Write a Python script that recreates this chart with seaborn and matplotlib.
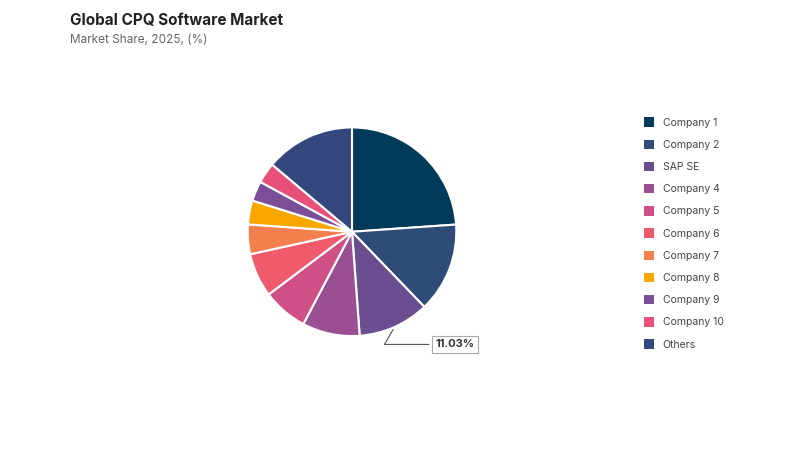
import matplotlib
matplotlib.use("Agg")
import matplotlib.pyplot as plt
import seaborn as sns
from matplotlib.patches import Patch
import numpy as np

sns.set_theme(style="white")
plt.rcParams['font.family'] = ['Inter', 'DejaVu Sans']

labels = ["Company 1", "Company 2", "SAP SE", "Company 4", "Company 5", "Company 6",
          "Company 7", "Company 8", "Company 9", "Company 10", "Others"]
values = [23.9, 13.9, 11.03, 8.9, 7.0, 6.8, 4.6, 3.7, 3.1, 3.2, 13.87]
colors = ["#023a5a", "#2f4b78", "#6b4e8f", "#9b4f93", "#d14f87", "#ef5b6c",
          "#f5804f", "#f7a700", "#7a4f97", "#e8507a", "#34477c"]

fig = plt.figure(figsize=(8, 4.5), dpi=100)
ax = fig.add_axes([0.277, 0.195, 0.326, 0.58])
wedges, _ = ax.pie(values, colors=colors, startangle=90, counterclock=False,
                   wedgeprops=dict(edgecolor="white", linewidth=1.5))
ax.set_aspect("equal")

w = wedges[2]
ang = np.deg2rad((w.theta1 + w.theta2) / 2)
x, y = np.cos(ang), np.sin(ang)
ax.annotate(f"{values[2]:.2f}%", xy=(x, y), xytext=(0.8, -1.08),
            fontsize=8, fontweight="bold", color="#333333", ha="left", va="center",
            bbox=dict(boxstyle="square,pad=0.3", fc="white", ec="#aaaaaa", lw=0.8),
            arrowprops=dict(arrowstyle="-", color="#555555", lw=0.8,
                            connectionstyle="angle,angleA=0,angleB=60"))

handles = [Patch(facecolor=c, edgecolor="none") for c in colors]
fig.legend(handles, labels, loc="upper left", bbox_to_anchor=(0.793, 0.76), frameon=False,
           fontsize=7.5, handlelength=1.0, handleheight=1.0, labelspacing=1.15,
           labelcolor="#444444")

fig.text(0.088, 0.945, "Global CPQ Software Market", fontsize=11, fontweight="bold", color="#222222")
fig.text(0.088, 0.905, "Market Share, 2025, (%)", fontsize=8.5, color="#666666")

fig.savefig("out.png", dpi=100)
